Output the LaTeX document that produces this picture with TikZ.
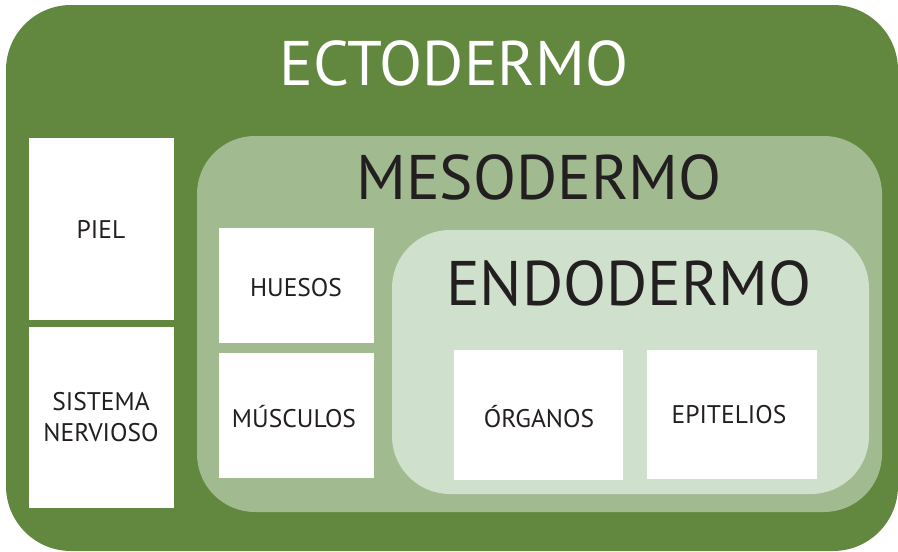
\documentclass[tikz,border=0pt]{standalone}
\usepackage{fontspec}
\setmainfont{PT Sans}
\definecolor{ectoverde}{RGB}{98,136,64}
\definecolor{mesoverde}{RGB}{161,186,144}
\definecolor{endoverde}{RGB}{207,225,204}
\definecolor{tinta}{RGB}{35,31,32}
\begin{document}
\begin{tikzpicture}[x=1pt,y=-1pt,
    titulo/.style={font=\fontsize{63}{63}\selectfont, anchor=base, inner sep=0pt},
    etiqueta/.style={font=\fontsize{25.5}{31}\selectfont, text=tinta, anchor=base, align=center, inner sep=0pt}]
    \useasboundingbox (0,0) rectangle (898,552);
    % capas
    \draw[fill=ectoverde, draw=none, rounded corners=65pt] (6,5) rectangle (898,551);
    \draw[fill=mesoverde, draw=none, rounded corners=58pt] (197,136) rectangle (882,512);
    \draw[fill=endoverde, draw=none, rounded corners=58pt] (392,230) rectangle (869,494);
    % cajas blancas
    \draw[fill=white, draw=none] (29,138) rectangle (174,320);
    \draw[fill=white, draw=none] (29,327) rectangle (174,508);
    \draw[fill=white, draw=none] (219,228) rectangle (374,343);
    \draw[fill=white, draw=none] (219,353) rectangle (374,478);
    \draw[fill=white, draw=none] (454,350) rectangle (623,480);
    \draw[fill=white, draw=none] (647,350) rectangle (817,479);
    % titulos
    \node[titulo, text=white] (ecto) at (454,85) {ECTODERMO};
    \node[titulo, text=tinta] (meso) at (539,199) {MESODERMO};
    \node[titulo, text=tinta] (endo) at (629,305) {ENDODERMO};
    % etiquetas
    \node[etiqueta] (piel) at (101,238) {PIEL};
    \node[etiqueta, anchor=north] (nervioso) at (101,392) {SISTEMA\\NERVIOSO};
    \node[etiqueta] (huesos) at (296,296) {HUESOS};
    \node[etiqueta] (musculos) at (294,427) {MÚSCULOS};
    \node[etiqueta] (organos) at (539,427) {ÓRGANOS};
    \node[etiqueta] (epitelios) at (729,423) {EPITELIOS};
\end{tikzpicture}
\end{document}
